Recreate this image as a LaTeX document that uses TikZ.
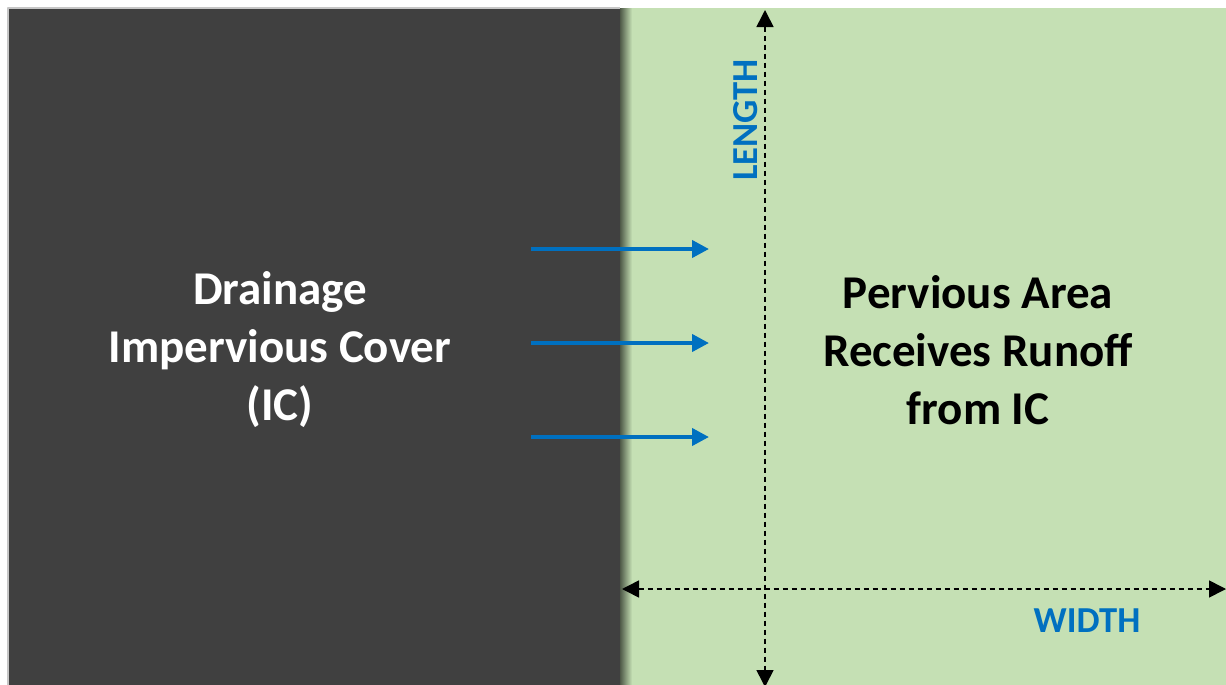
\documentclass[tikz,border=0pt]{standalone}
\usepackage{fontspec}
\setmainfont{Carlito}
\usetikzlibrary{arrows.meta,positioning}
\definecolor{icgray}{HTML}{404040}
\definecolor{pagreen}{HTML}{C5E0B4}
\definecolor{dimblue}{HTML}{0070C0}
\tikzset{
  bigtext/.style={align=center,font=\bfseries\fontsize{23.5}{29}\selectfont},
  dimtext/.style={text=dimblue,font=\bfseries\fontsize{18.3}{22}\selectfont},
  flow/.style={->,draw=dimblue,line width=2pt},
  dimline/.style={<->,line width=.8pt,dash pattern=on 2.5pt off 2pt}
}
\begin{document}
\begin{tikzpicture}[x=.5pt,y=-.5pt, line join=round, >={Triangle[length=8.5pt,width=8.5pt]}]
	\useasboundingbox (0,0) rectangle (1226,685);
	% pervious area and shadow of the cover
	\fill[pagreen] (620,8) rectangle (1226,685);
	\shade[left color=black!60!pagreen,right color=pagreen] (620,8) rectangle (632,685);
	\fill[icgray] (8,8) rectangle (620,685);
	\draw[gray!45,line width=.6pt] (8,685) -- (8,8) -- (620,8);
	\node[bigtext,text=white] (ic) at (280,350) {Drainage\\Impervious Cover\\(IC)};
	\node[bigtext,text=black] (pa) at (978,350) {Pervious Area\\Receives Runoff\\from IC};
	% runoff arrows
	\foreach \i/\y in {1/249,2/343,3/437}{
		\coordinate (s\i) at (531,\y);
		\coordinate (e\i) at (709,\y);
		\draw[flow] (s\i) -- (e\i);
	}
	% dimensions
	\coordinate (ltop) at (765,10);
	\coordinate (lbot) at (765,687);
	\coordinate (wlft) at (622,589);
	\coordinate (wrgt) at (1226,589);
	\draw[dimline] (ltop) -- (lbot);
	\draw[dimline] (wlft) -- (wrgt);
	\node[dimtext,rotate=90] (len) at (746,120) {LENGTH};
	\node[dimtext] (wid) at (1087,621) {WIDTH};
\end{tikzpicture}
\end{document}
